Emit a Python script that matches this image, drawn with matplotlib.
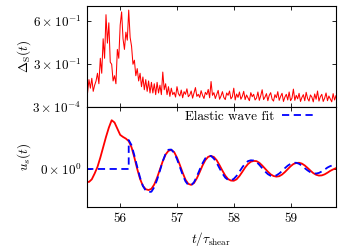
import numpy as np
import matplotlib
matplotlib.use("Agg")
import matplotlib.pyplot as plt

plt.rcParams['font.family'] = ['cmr10', 'DejaVu Serif']
plt.rcParams['mathtext.fontset'] = 'cm'
plt.rcParams['axes.unicode_minus'] = False
plt.rcParams['font.size'] = 9.5

# ---- top panel: Delta_S(t), sampled every 0.025 from 55.40 to 59.80
delta_s = [
    0.22, 0.19, 0.235, 0.205, 0.24, 0.195, 0.215, 0.23, 0.26, 0.22,
    0.33, 0.26, 0.45, 0.33, 0.66, 0.42, 0.58, 0.31, 0.30, 0.23,
    0.25, 0.22, 0.38, 0.33, 0.56, 0.69, 0.45, 0.38, 0.50, 0.44,
    0.71, 0.46, 0.40, 0.30, 0.32, 0.25, 0.28, 0.23, 0.26, 0.21,
    0.245, 0.20, 0.235, 0.195, 0.23, 0.19, 0.225, 0.19, 0.22, 0.185,
    0.225, 0.19, 0.215, 0.185, 0.265, 0.20, 0.22, 0.185, 0.21, 0.18,
    0.205, 0.185, 0.192, 0.178, 0.21, 0.188, 0.181, 0.199, 0.176, 0.194,
    0.186, 0.203, 0.179, 0.184, 0.196, 0.175, 0.19, 0.207, 0.18, 0.186,
    0.177, 0.197, 0.183, 0.174, 0.192, 0.185, 0.201, 0.176, 0.228, 0.183,
    0.191, 0.174, 0.186, 0.198, 0.172, 0.181, 0.194, 0.177, 0.171, 0.19,
    0.183, 0.196, 0.173, 0.179, 0.205, 0.17, 0.187, 0.177, 0.193, 0.172,
    0.18, 0.195, 0.171, 0.184, 0.176, 0.168, 0.191, 0.179, 0.186, 0.17,
    0.175, 0.193, 0.169, 0.182, 0.2, 0.171, 0.178, 0.188, 0.168, 0.183,
    0.191, 0.172, 0.167, 0.185, 0.176, 0.194, 0.169, 0.18, 0.189, 0.166,
    0.178, 0.186, 0.17, 0.193, 0.168, 0.175, 0.202, 0.169, 0.183, 0.173,
    0.189, 0.166, 0.177, 0.185, 0.168, 0.192, 0.174, 0.167, 0.184, 0.178,
    0.165, 0.187, 0.172, 0.196, 0.167, 0.179, 0.186, 0.166, 0.175, 0.19,
    0.168, 0.181, 0.173, 0.165, 0.188, 0.17, 0.182,
]

# ---- bottom panel: u_s(t) (units of 1e-4), sampled every 0.05 from 55.40 to 59.80
us_red = [
    -0.60, -0.63, -0.50, -0.22, 0.10, 0.55, 1.05, 1.55, 2.00, 2.36,
    2.25, 1.95, 1.65, 1.55, 1.47, 1.35, 1.05, 0.55, 0.00, -0.48,
    -0.82, -0.98, -1.02, -0.96, -0.75, -0.42, -0.02, 0.38, 0.70, 0.88,
    0.92, 0.82, 0.55, 0.20, -0.18, -0.52, -0.72, -0.77, -0.68, -0.45,
    -0.15, 0.17, 0.43, 0.59, 0.63, 0.58, 0.42, 0.18, -0.08, -0.32,
    -0.49, -0.56, -0.57, -0.50, -0.34, -0.14, 0.07, 0.24, 0.35, 0.39,
    0.38, 0.30, 0.17, 0.02, -0.13, -0.26, -0.34, -0.37, -0.35, -0.27,
    -0.15, -0.01, 0.13, 0.24, 0.29, 0.30, 0.26, 0.17, 0.05, -0.08,
    -0.20, -0.28, -0.32, -0.31, -0.26, -0.18, -0.09, -0.02, 0.04,
]

# elastic wave fit: zero before onset at 56.15, then sampled every 0.05 to 59.80
t_onset = [55.40, 56.15]
fit_pre = [0.0, 0.0]
us_fit = [
    1.40, 1.15, 0.65, 0.10, -0.42, -0.82, -1.05, -1.12, -1.10, -0.88,
    -0.52, -0.08, 0.38, 0.74, 0.93, 0.94, 0.78, 0.48, 0.10, -0.28,
    -0.60, -0.78, -0.79, -0.64, -0.36, -0.03, 0.28, 0.52, 0.64, 0.63,
    0.50, 0.29, 0.03, -0.22, -0.42, -0.53, -0.55, -0.48, -0.33, -0.13,
    0.08, 0.26, 0.38, 0.42, 0.41, 0.34, 0.20, 0.04, -0.12, -0.25,
    -0.33, -0.35, -0.31, -0.22, -0.10, 0.04, 0.16, 0.25, 0.30, 0.30,
    0.25, 0.16, 0.04, -0.07, -0.16, -0.21, -0.22, -0.19, -0.12, -0.03,
    0.07, 0.14, 0.18, 0.19,
]

xticks = [56, 57, 58, 59]

t_top = np.linspace(55.40, 59.80, len(delta_s))
t_red = np.linspace(55.40, 59.80, len(us_red))
t_fit = np.concatenate([t_onset, np.linspace(56.15, 59.80, len(us_fit))])
y_fit = np.concatenate([fit_pre, us_fit]) * 1e-4
y_red = np.array(us_red) * 1e-4

fig = plt.figure(figsize=(3.56, 2.49), dpi=100)
L, R = 0.2435, 0.9438
ax1 = fig.add_axes([L, 0.5703, R - L, 0.9759 - 0.5703])
ax2 = fig.add_axes([L, 0.1687, R - L, 0.5703 - 0.1687], sharex=ax1)

ax1.plot(t_top, delta_s, color='red', lw=0.75)
ax1.set_yscale('log')
ax1.set_ylim(0.152, 0.758)
ax1.set_yticks([0.3, 0.6])
ax1.set_yticklabels([r'$3\times10^{-1}$', r'$6\times10^{-1}$'])
ax1.yaxis.set_minor_locator(matplotlib.ticker.NullLocator())
ax1.set_ylabel(r'$\Delta_{\rm S}(t)$')
plt.setp(ax1.get_xticklabels(), visible=False)

ax2.plot(t_red, y_red, color='red', lw=1.3)
ax2.plot(t_fit, y_fit, color='blue', lw=1.3, ls=(0, (4, 2.5)), label='Elastic wave fit')
ax2.set_ylim(-1.84e-4, 3e-4)
ax2.set_yticks([0, 3e-4])
ax2.set_yticklabels([r'$0\times10^{0}$', r'$3\times10^{-4}$'])
ax2.set_ylabel(r'$u_s(t)$')
ax2.set_xlim(55.41, 59.80)
ax2.set_xticks(xticks)
ax2.set_xticklabels([str(v) for v in xticks])
ax2.set_xlabel(r'$t/\tau_{\rm shear}$')
ax2.legend(loc='upper right', bbox_to_anchor=(0.936, 1.0), frameon=False,
           markerfirst=False, handlelength=2.65, borderaxespad=0.1,
           borderpad=0.15, handletextpad=0.6)

for ax in (ax1, ax2):
    ax.tick_params(direction='in', top=True, right=True, length=3, width=0.6, pad=4)
    for s in ax.spines.values():
        s.set_linewidth(0.8)
    ax.yaxis.set_label_coords(-0.215, 0.5)

fig.savefig('out.png', dpi=100)
